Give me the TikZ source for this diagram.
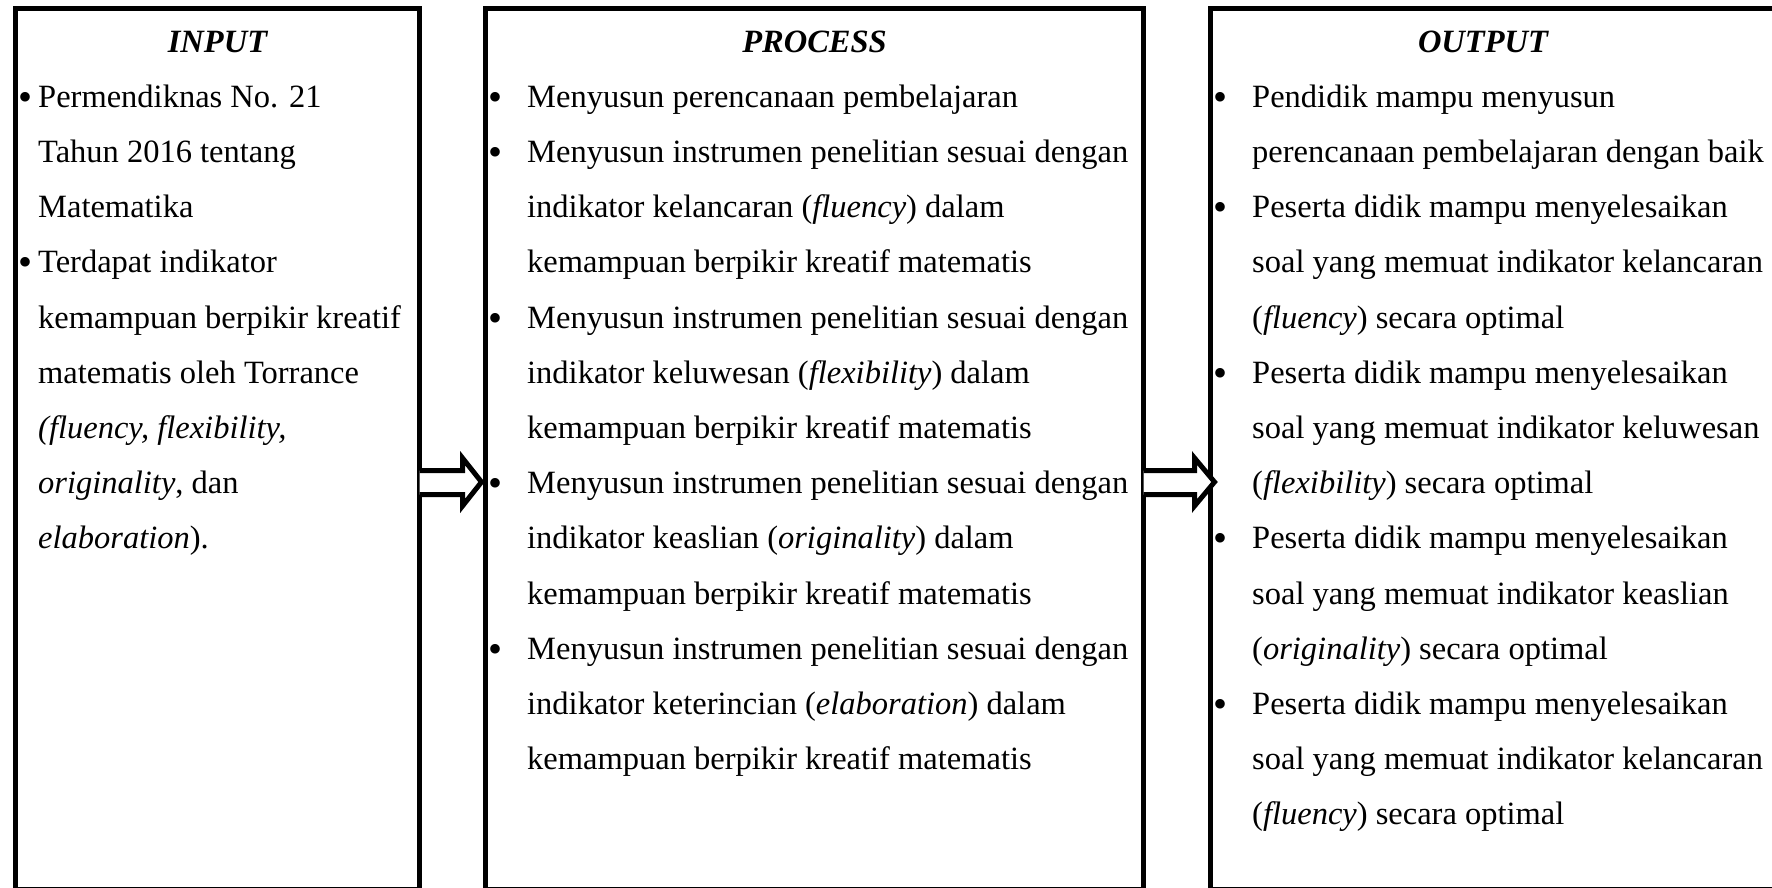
\documentclass[tikz,border=0pt]{standalone}
\usepackage{fontspec}
\setmainfont{Liberation Serif}
\usetikzlibrary{calc}
\newcommand\bly[1]{52+55.2*#1}
\begin{document}
\begin{tikzpicture}[x=1pt,y=-1pt,
  box/.style={draw, line width=5pt, inner sep=0pt, outer sep=0pt, anchor=north west},
  txt/.style={inner sep=0pt, anchor=base west, font=\fontsize{32.5}{38}\selectfont},
  bul/.style={inner sep=0pt, anchor=base, yshift=-3pt, font=\fontsize{40}{40}\selectfont},
  ttl/.style={inner sep=0pt, anchor=base, font=\fontsize{32.5}{38}\selectfont\bfseries\itshape},
  blockarrow/.style={draw, fill=white, line width=5pt, line join=miter}]
\useasboundingbox (0,0) rectangle (1772,887);
\clip (0,0) rectangle (1772,887);
% boxes
\node[box, minimum width=404pt, minimum height=880.5pt] (inbox) at (15.5,8.5) {};
\node[box, minimum width=658pt, minimum height=880.5pt] (procbox) at (485.5,8.5) {};
\node[box, minimum width=580pt, minimum height=880.5pt] (outbox) at (1210.5,8.5) {};
% arrows
\coordinate (a1s) at (inbox.east |- 0,482);
\coordinate (a1t) at ($(procbox.west |- 0,482)+(-4,0)$);
\draw[blockarrow] ($(a1s)+(0,-11.5)$) -- (462.5,470.5) -- (462.5,458) -- (a1t) -- (462.5,506) -- (462.5,494.5) -- ($(a1s)+(0,12.5)$);
\coordinate (a2s) at (procbox.east |- 0,482);
\coordinate (a2t) at ($(outbox.west |- 0,482)+(4,0)$);
\draw[blockarrow] ($(a2s)+(0,-11.5)$) -- (1194.5,470.5) -- (1194.5,458) -- (a2t) -- (1194.5,506) -- (1194.5,494.5) -- ($(a2s)+(0,12.5)$);
% INPUT
\node[ttl] (ti) at (217.5,{\bly{0}}) {INPUT};
\node[bul] (ib1) at (26,{\bly{1}}) {•};
\node[txt] (i1) at (38,{\bly{1}}) {Permendiknas No. 21};
\node[txt] (i2) at (38,{\bly{2}}) {Tahun 2016 tentang};
\node[txt] (i3) at (38,{\bly{3}}) {Matematika};
\node[bul] (ib2) at (26,{\bly{4}}) {•};
\node[txt] (i4) at (38,{\bly{4}}) {Terdapat indikator};
\node[txt] (i5) at (38,{\bly{5}}) {kemampuan berpikir kreatif};
\node[txt] (i6) at (38,{\bly{6}}) {matematis oleh Torrance};
\node[txt] (i7) at (38,{\bly{7}}) {\textit{(fluency, flexibility,}};
\node[txt] (i8) at (38,{\bly{8}}) {\textit{originality}, dan};
\node[txt] (i9) at (38,{\bly{9}}) {\textit{elaboration}).};
% PROCESS
\node[ttl] (tp) at (814.5,{\bly{0}}) {PROCESS};
\node[bul] (pb1) at (495,{\bly{1}}) {•};
\node[txt] (p1) at (527,{\bly{1}}) {Menyusun perencanaan pembelajaran};
\node[bul] (pb2) at (495,{\bly{2}}) {•};
\node[txt] (p2) at (527,{\bly{2}}) {Menyusun instrumen penelitian sesuai dengan};
\node[txt] (p3) at (527,{\bly{3}}) {indikator kelancaran (\textit{fluency}) dalam};
\node[txt] (p4) at (527,{\bly{4}}) {kemampuan berpikir kreatif matematis};
\node[bul] (pb3) at (495,{\bly{5}}) {•};
\node[txt] (p5) at (527,{\bly{5}}) {Menyusun instrumen penelitian sesuai dengan};
\node[txt] (p6) at (527,{\bly{6}}) {indikator keluwesan (\textit{flexibility}) dalam};
\node[txt] (p7) at (527,{\bly{7}}) {kemampuan berpikir kreatif matematis};
\node[bul] (pb4) at (495,{\bly{8}}) {•};
\node[txt] (p8) at (527,{\bly{8}}) {Menyusun instrumen penelitian sesuai dengan};
\node[txt] (p9) at (527,{\bly{9}}) {indikator keaslian (\textit{originality}) dalam};
\node[txt] (p10) at (527,{\bly{10}}) {kemampuan berpikir kreatif matematis};
\node[bul] (pb5) at (495,{\bly{11}}) {•};
\node[txt] (p11) at (527,{\bly{11}}) {Menyusun instrumen penelitian sesuai dengan};
\node[txt] (p12) at (527,{\bly{12}}) {indikator keterincian (\textit{elaboration}) dalam};
\node[txt] (p13) at (527,{\bly{13}}) {kemampuan berpikir kreatif matematis};
% OUTPUT
\node[ttl] (to) at (1483,{\bly{0}}) {OUTPUT};
\node[bul] (ob1) at (1220,{\bly{1}}) {•};
\node[txt] (o1) at (1252,{\bly{1}}) {Pendidik mampu menyusun};
\node[txt] (o2) at (1252,{\bly{2}}) {perencanaan pembelajaran dengan baik};
\node[bul] (ob2) at (1220,{\bly{3}}) {•};
\node[txt] (o3) at (1252,{\bly{3}}) {Peserta didik mampu menyelesaikan};
\node[txt] (o4) at (1252,{\bly{4}}) {soal yang memuat indikator kelancaran};
\node[txt] (o5) at (1252,{\bly{5}}) {(\textit{fluency}) secara optimal};
\node[bul] (ob3) at (1220,{\bly{6}}) {•};
\node[txt] (o6) at (1252,{\bly{6}}) {Peserta didik mampu menyelesaikan};
\node[txt] (o7) at (1252,{\bly{7}}) {soal yang memuat indikator keluwesan};
\node[txt] (o8) at (1252,{\bly{8}}) {(\textit{flexibility}) secara optimal};
\node[bul] (ob4) at (1220,{\bly{9}}) {•};
\node[txt] (o9) at (1252,{\bly{9}}) {Peserta didik mampu menyelesaikan};
\node[txt] (o10) at (1252,{\bly{10}}) {soal yang memuat indikator keaslian};
\node[txt] (o11) at (1252,{\bly{11}}) {(\textit{originality}) secara optimal};
\node[bul] (ob5) at (1220,{\bly{12}}) {•};
\node[txt] (o12) at (1252,{\bly{12}}) {Peserta didik mampu menyelesaikan};
\node[txt] (o13) at (1252,{\bly{13}}) {soal yang memuat indikator kelancaran};
\node[txt] (o14) at (1252,{\bly{14}}) {(\textit{fluency}) secara optimal};
\end{tikzpicture}
\end{document}
